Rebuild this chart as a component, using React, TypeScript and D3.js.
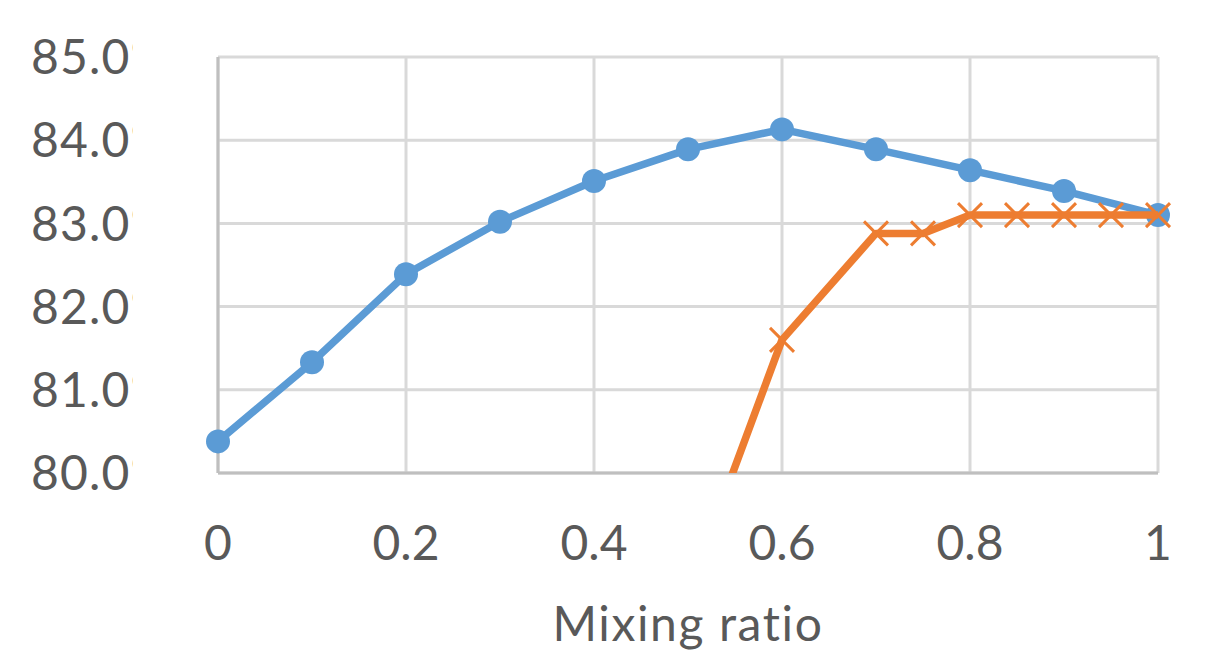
import React from "react";
import * as d3 from "d3";

// blue series: every 0.1
const blueX = [0, 0.1, 0.2, 0.3, 0.4, 0.5, 0.6, 0.7, 0.8, 0.9, 1.0];
const blueY = [80.38, 81.33, 82.39, 83.02, 83.51, 83.89, 84.13, 83.89, 83.64, 83.39, 83.1];

// orange series: starts below the axis minimum
const orangeX = [0.5, 0.6, 0.7, 0.75, 0.8, 0.85, 0.9, 0.95, 1.0];
const orangeY = [78.55, 81.6, 82.88, 82.88, 83.1, 83.1, 83.1, 83.1, 83.1];

const xTicks = [0, 0.2, 0.4, 0.6, 0.8, 1];
const yTicks = [80, 81, 82, 83, 84, 85];
const xTitle = "Mixing ratio";

const W = 1221;
const H = 672;
const left = 218;
const right = 1158;
const top = 57;
const bottom = 473;

const FONT = "Lato, 'Noto Sans', sans-serif";
const TEXT = "#595959";
const BLUE = "#5b9bd5";
const ORANGE = "#ed7d31";

export default function App() {
  const x = d3.scaleLinear().domain([0, 1]).range([left, right]);
  const y = d3.scaleLinear().domain([80, 85]).range([bottom, top]);

  const blue = blueX.map((v, i) => ({ x: v, y: blueY[i] }));
  const orange = orangeX.map((v, i) => ({ x: v, y: orangeY[i] }));

  const line = d3
    .line<{ x: number; y: number }>()
    .x((d) => x(d.x))
    .y((d) => y(d.y));

  const crossR = 12;

  return (
    <svg
      width={W}
      height={H}
      style={{ position: "absolute", left: 0, top: 0, background: "#fff" }}
    >
      <defs>
        <clipPath id="plotClip">
          <rect x={0} y={top} width={W} height={bottom - top} />
        </clipPath>
        <clipPath id="labelClip">
          <rect x={0} y={0} width={133} height={H} />
        </clipPath>
      </defs>

      {/* gridlines */}
      {yTicks.map((t) => (
        <line
          key={"gy" + t}
          x1={left}
          x2={right}
          y1={y(t)}
          y2={y(t)}
          stroke="#d9d9d9"
          strokeWidth={3}
        />
      ))}
      {xTicks.map((t) => (
        <line
          key={"gx" + t}
          x1={x(t)}
          x2={x(t)}
          y1={top}
          y2={bottom}
          stroke="#d9d9d9"
          strokeWidth={3}
        />
      ))}
      {/* axes */}
      <line x1={left} x2={left} y1={top} y2={bottom} stroke="#bfbfbf" strokeWidth={3} />
      <line x1={left} x2={right} y1={bottom} y2={bottom} stroke="#bfbfbf" strokeWidth={3} />

      {/* y labels (clipped like the source) */}
      <g clipPath="url(#labelClip)">
        {yTicks.map((t) => (
          <text
            key={"ly" + t}
            x={31}
            y={y(t)}
            dy="0.36em"
            fontFamily={FONT}
            fontSize={48}
            letterSpacing={1.2}
            fill={TEXT}
          >
            {t.toFixed(1) + "%"}
          </text>
        ))}
      </g>

      {/* x labels */}
      {xTicks.map((t) => (
        <text
          key={"lx" + t}
          x={x(t)}
          y={560}
          textAnchor="middle"
          fontFamily={FONT}
          fontSize={48}
          fill={TEXT}
        >
          {String(t)}
        </text>
      ))}
      <text
        x={(left + right) / 2}
        y={641}
        textAnchor="middle"
        fontFamily={FONT}
        fontSize={48}
        letterSpacing={1.6}
        fill={TEXT}
      >
        {xTitle}
      </text>

      {/* blue series */}
      <path d={line(blue) ?? ""} fill="none" stroke={BLUE} strokeWidth={7.5} strokeLinejoin="round" />
      {blue.map((d, i) => (
        <circle key={"b" + i} cx={x(d.x)} cy={y(d.y)} r={12} fill={BLUE} />
      ))}

      {/* orange series */}
      <path
        d={line(orange) ?? ""}
        fill="none"
        stroke={ORANGE}
        strokeWidth={7.5}
        strokeLinejoin="round"
        clipPath="url(#plotClip)"
      />
      {orange
        .filter((d) => d.y >= 80)
        .map((d, i) => (
          <path
            key={"o" + i}
            d={`M${x(d.x) - crossR},${y(d.y) - crossR}L${x(d.x) + crossR},${y(d.y) + crossR}M${x(d.x) - crossR},${y(d.y) + crossR}L${x(d.x) + crossR},${y(d.y) - crossR}`}
            stroke={ORANGE}
            strokeWidth={3}
            fill="none"
          />
        ))}
    </svg>
  );
}
